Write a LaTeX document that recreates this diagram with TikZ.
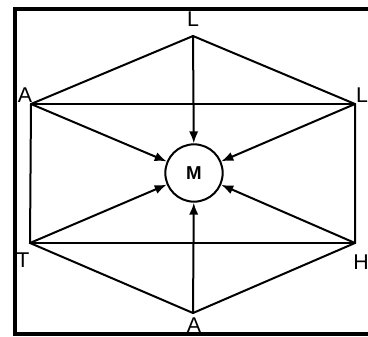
\documentclass[tikz,border=0pt]{standalone}
\usepackage{fontspec}
\setmainfont{Liberation Sans}
\usetikzlibrary{arrows.meta}

\tikzset{
    corner/.style={font=\fontsize{16}{16}\selectfont, inner sep=0pt},
    hub/.style={circle, draw, minimum size=43pt, inner sep=0pt, font=\bfseries\fontsize{14}{14}\selectfont}
}

\begin{document}
\begin{tikzpicture}[x=0.75pt, y=-0.75pt, line width=1.5pt, >={Latex[length=9pt,width=7pt]}]
    \useasboundingbox (0,0) rectangle (368,336);
    % frame
    \draw[line width=2.5pt] (368,9) -- (15,9) -- (15,334) -- (368,334);
    % corners
    \coordinate (top) at (193,36);
    \coordinate (ul) at (31,104);
    \coordinate (ur) at (355,104);
    \coordinate (ll) at (30,243);
    \coordinate (lr) at (355,243);
    \coordinate (bot) at (193,313);
    \node[hub] (M) at (194,173) {M};
    % letters
    \node[corner] (Ltop) at (193,19) {L};
    \node[corner] (Aleft) at (25,95) {A};
    \node[corner] (Lright) at (362,95) {L};
    \node[corner] (Tleft) at (23,260) {T};
    \node[corner] (Hright) at (361,262) {H};
    \node[corner] (Abot) at (194,325) {A};
    % hexagon
    \draw (top) -- (ul) -- (ll) -- (bot) -- (lr) -- (ur) -- cycle;
    \draw (ul) -- (ur);
    \draw (ll) -- (lr);
    % spokes
    \draw[->] (top) -- (M);
    \draw[->] (ul) -- (M);
    \draw[->] (ur) -- (M);
    \draw[->] (ll) -- (M);
    \draw[->] (lr) -- (M);
    \draw[->] (bot) -- (M);
\end{tikzpicture}
\end{document}
